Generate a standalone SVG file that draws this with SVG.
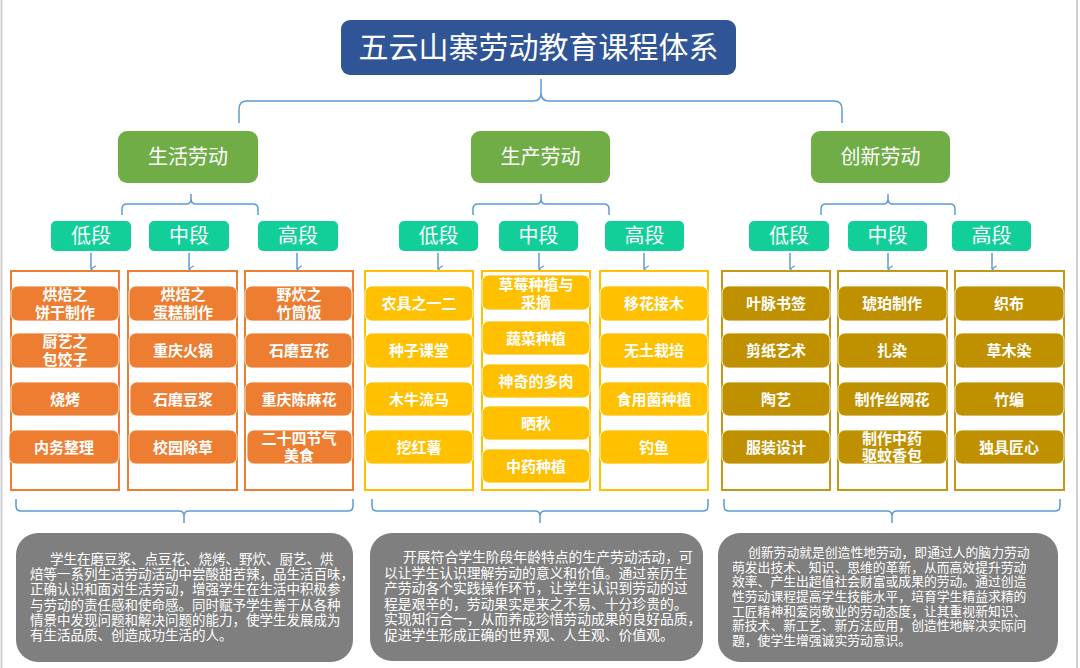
<svg xmlns="http://www.w3.org/2000/svg" width="1080" height="668" viewBox="0 0 1080 668">
<defs>
<style>
text{font-family:"Liberation Sans","Noto Sans CJK SC",sans-serif;fill:#fff;}
.t{font-size:30px;text-anchor:middle;dominant-baseline:central;}
.cat{font-size:20px;text-anchor:middle;dominant-baseline:central;}
.lvl{font-size:20px;text-anchor:middle;dominant-baseline:central;}
.it{font-size:15px;font-weight:bold;text-anchor:middle;dominant-baseline:central;}
.it2{font-size:15px;font-weight:bold;text-anchor:middle;}
.d1{font-size:13.5px;}
.d2{font-size:13.8px;}
.d3{font-size:12.8px;}
.conn{fill:none;stroke:#5B9BD5;stroke-width:1.5;}
.o{fill:#ED7D31;stroke:#fff;stroke-width:0.8;}
.y{fill:#FFC000;stroke:#fff;stroke-width:0.8;}
.g{fill:#BF9000;stroke:#fff;stroke-width:0.8;}
.fo{fill:#fff;stroke:#ED7D31;stroke-width:2;}
.fy{fill:#fff;stroke:#FFC000;stroke-width:2;}
.fg{fill:#fff;stroke:#C49A14;stroke-width:2;}
.cat-box{fill:#70AD47;}
.lvl-box{fill:#12CF9A;}
.desc{fill:#7F7F7F;}
</style>
<marker id="arr" viewBox="0 0 10 10" refX="5" refY="9" markerWidth="8" markerHeight="8" orient="auto-start-reverse" markerUnits="userSpaceOnUse">
<path d="M1,3 L5,9 L9,3" fill="none" stroke="#5B9BD5" stroke-width="1.4"/>
</marker>
</defs>
<rect width="1080" height="668" fill="#fff"/>
<line x1="1.5" y1="0" x2="1.5" y2="668" stroke="#cfcfcf" stroke-width="2"/>
<line x1="1077" y1="0" x2="1077" y2="668" stroke="#cfcfcf" stroke-width="2"/>

<g id="connectors">
<path class="conn" d="M239,123 L239,109 Q239,101 247,101 L533,101 Q541,101 541,93 L541,79 M541,93 Q541,101 549,101 L834,101 Q842,101 842,109 L842,123"/>
<path class="conn" d="M122,215 L122,209 Q122,204 127,204 L186,204 Q191,204 191,199 L191,194 M191,199 Q191,204 196,204 L253,204 Q258,204 258,209 L258,215"/>
<path class="conn" d="M473,215 L473,209 Q473,204 478,204 L536,204 Q541,204 541,199 L541,194 M541,199 Q541,204 546,204 L604,204 Q609,204 609,209 L609,215"/>
<path class="conn" d="M821,215 L821,209 Q821,204 826,204 L883,204 Q888,204 888,199 L888,194 M888,199 Q888,204 893,204 L950,204 Q955,204 955,209 L955,215"/>
<line class="conn" x1="91" y1="253" x2="91" y2="269" marker-end="url(#arr)"/>
<line class="conn" x1="189" y1="253" x2="189" y2="269" marker-end="url(#arr)"/>
<line class="conn" x1="297" y1="253" x2="297" y2="269" marker-end="url(#arr)"/>
<line class="conn" x1="438" y1="253" x2="438" y2="269" marker-end="url(#arr)"/>
<line class="conn" x1="539" y1="253" x2="539" y2="269" marker-end="url(#arr)"/>
<line class="conn" x1="644" y1="253" x2="644" y2="269" marker-end="url(#arr)"/>
<line class="conn" x1="790" y1="253" x2="790" y2="269" marker-end="url(#arr)"/>
<line class="conn" x1="888" y1="253" x2="888" y2="269" marker-end="url(#arr)"/>
<line class="conn" x1="992" y1="253" x2="992" y2="269" marker-end="url(#arr)"/>
<path class="conn" d="M16,499 L16,506 Q16,511 21,511 L179,511 Q184,511 184,516 L184,523 M184,516 Q184,511 189,511 L348,511 Q353,511 353,506 L353,499"/>
<path class="conn" d="M372,499 L372,506 Q372,511 377,511 L535,511 Q540,511 540,516 L540,523 M540,516 Q540,511 545,511 L703,511 Q708,511 708,506 L708,499"/>
<path class="conn" d="M724,499 L724,506 Q724,511 729,511 L887,511 Q892,511 892,516 L892,523 M892,516 Q892,511 897,511 L1055,511 Q1060,511 1060,506 L1060,499"/>
</g>

<g id="title">
<rect x="341" y="20" width="395" height="55" rx="9" fill="#2F5597"/>
<text class="t" x="538.5" y="47.5">五云山寨劳动教育课程体系</text>
</g>

<g id="cat-life"><rect class="cat-box" x="118" y="131" width="140" height="52" rx="9"/><text class="cat" x="188" y="157">生活劳动</text></g>
<g id="cat-prod"><rect class="cat-box" x="471" y="131" width="139" height="52" rx="9"/><text class="cat" x="540.5" y="157">生产劳动</text></g>
<g id="cat-inno"><rect class="cat-box" x="811" y="131" width="139" height="52" rx="9"/><text class="cat" x="880.5" y="157">创新劳动</text></g>

<g id="lvl-1a"><rect class="lvl-box" x="51" y="221" width="80" height="30" rx="5"/><text class="lvl" x="91" y="236">低段</text></g>
<g id="lvl-1b"><rect class="lvl-box" x="149" y="221" width="80" height="30" rx="5"/><text class="lvl" x="189" y="236">中段</text></g>
<g id="lvl-1c"><rect class="lvl-box" x="258" y="221" width="80" height="30" rx="5"/><text class="lvl" x="298" y="236">高段</text></g>
<g id="lvl-2a"><rect class="lvl-box" x="399" y="221" width="79" height="30" rx="5"/><text class="lvl" x="438.5" y="236">低段</text></g>
<g id="lvl-2b"><rect class="lvl-box" x="499" y="221" width="79" height="30" rx="5"/><text class="lvl" x="538.5" y="236">中段</text></g>
<g id="lvl-2c"><rect class="lvl-box" x="605" y="221" width="79" height="30" rx="5"/><text class="lvl" x="644.5" y="236">高段</text></g>
<g id="lvl-3a"><rect class="lvl-box" x="749" y="221" width="80" height="30" rx="5"/><text class="lvl" x="789" y="236">低段</text></g>
<g id="lvl-3b"><rect class="lvl-box" x="848" y="221" width="79" height="30" rx="5"/><text class="lvl" x="887.5" y="236">中段</text></g>
<g id="lvl-3c"><rect class="lvl-box" x="952" y="221" width="79" height="30" rx="5"/><text class="lvl" x="991.5" y="236">高段</text></g>

<g id="col-1a">
<rect class="fo" x="11" y="271" width="108" height="219"/>
<rect class="o" x="11" y="286" width="108" height="35" rx="7"/><text class="it2" x="65" y="300.2">烘焙之<tspan x="65" dy="18">饼干制作</tspan></text>
<rect class="o" x="11" y="333" width="108" height="35" rx="7"/><text class="it2" x="65" y="347.2">厨艺之<tspan x="65" dy="18">包饺子</tspan></text>
<rect class="o" x="11" y="382" width="108" height="34" rx="7"/><text class="it" x="65" y="399">烧烤</text>
<rect class="o" x="9" y="430" width="110" height="34" rx="7"/><text class="it" x="64" y="447">内务整理</text>
</g>
<g id="col-1b">
<rect class="fo" x="128" y="271" width="109" height="219"/>
<rect class="o" x="129" y="286" width="108" height="35" rx="7"/><text class="it2" x="183" y="300.2">烘焙之<tspan x="183" dy="18">蛋糕制作</tspan></text>
<rect class="o" x="129" y="333" width="108" height="35" rx="7"/><text class="it" x="183" y="350.5">重庆火锅</text>
<rect class="o" x="130" y="382" width="107" height="34" rx="7"/><text class="it" x="183" y="399">石磨豆浆</text>
<rect class="o" x="129" y="430" width="108" height="34" rx="7"/><text class="it" x="183" y="447">校园除草</text>
</g>
<g id="col-1c">
<rect class="fo" x="245" y="271" width="108" height="219"/>
<rect class="o" x="245" y="286" width="107" height="35" rx="7"/><text class="it2" x="299" y="300.2">野炊之<tspan x="299" dy="18">竹筒饭</tspan></text>
<rect class="o" x="245" y="333" width="107" height="35" rx="7"/><text class="it" x="299" y="350.5">石磨豆花</text>
<rect class="o" x="245" y="382" width="107" height="34" rx="7"/><text class="it" x="299" y="399">重庆陈麻花</text>
<rect class="o" x="247" y="430" width="105" height="34" rx="7"/><text class="it2" x="299" y="444.2">二十四节气<tspan x="299" dy="17">美食</tspan></text>
</g>

<g id="col-2a">
<rect class="fy" x="365" y="271" width="108" height="219"/>
<rect class="y" x="365" y="286" width="108" height="35" rx="7"/><text class="it" x="419" y="303.5">农具之一二</text>
<rect class="y" x="365" y="333" width="108" height="35" rx="7"/><text class="it" x="419" y="350.5">种子课堂</text>
<rect class="y" x="365" y="382" width="108" height="34" rx="7"/><text class="it" x="419" y="399">木牛流马</text>
<rect class="y" x="365" y="430" width="108" height="34" rx="7"/><text class="it" x="419" y="447">挖红薯</text>
</g>
<g id="col-2b">
<rect class="fy" x="482" y="271" width="108" height="219"/>
<rect class="y" x="482" y="275" width="108" height="35" rx="7"/><text class="it2" x="536" y="289.7">草莓种植与<tspan x="536" dy="18">采摘</tspan></text>
<rect class="y" x="482" y="321" width="108" height="34" rx="7"/><text class="it" x="536" y="338">蔬菜种植</text>
<rect class="y" x="482" y="364" width="108" height="34" rx="7"/><text class="it" x="536" y="381">神奇的多肉</text>
<rect class="y" x="482" y="406" width="108" height="34" rx="7"/><text class="it" x="536" y="423">晒秋</text>
<rect class="y" x="482" y="449" width="108" height="34" rx="7"/><text class="it" x="536" y="466">中药种植</text>
</g>
<g id="col-2c">
<rect class="fy" x="600" y="271" width="108" height="219"/>
<rect class="y" x="600" y="286" width="108" height="35" rx="7"/><text class="it" x="654" y="303.5">移花接木</text>
<rect class="y" x="600" y="333" width="108" height="35" rx="7"/><text class="it" x="654" y="350.5">无土栽培</text>
<rect class="y" x="600" y="382" width="108" height="34" rx="7"/><text class="it" x="654" y="399">食用菌种植</text>
<rect class="y" x="600" y="430" width="108" height="34" rx="7"/><text class="it" x="654" y="447">钓鱼</text>
</g>

<g id="col-3a">
<rect class="fg" x="722" y="271" width="108" height="219"/>
<rect class="g" x="722" y="286" width="108" height="35" rx="7"/><text class="it" x="776" y="303.5">叶脉书签</text>
<rect class="g" x="722" y="333" width="108" height="35" rx="7"/><text class="it" x="776" y="350.5">剪纸艺术</text>
<rect class="g" x="722" y="382" width="108" height="34" rx="7"/><text class="it" x="776" y="399">陶艺</text>
<rect class="g" x="722" y="430" width="108" height="34" rx="7"/><text class="it" x="776" y="447">服装设计</text>
</g>
<g id="col-3b">
<rect class="fg" x="838" y="271" width="109" height="219"/>
<rect class="g" x="838" y="286" width="109" height="35" rx="7"/><text class="it" x="892" y="303.5">琥珀制作</text>
<rect class="g" x="838" y="333" width="109" height="35" rx="7"/><text class="it" x="892" y="350.5">扎染</text>
<rect class="g" x="838" y="382" width="109" height="34" rx="7"/><text class="it" x="892" y="399">制作丝网花</text>
<rect class="g" x="838" y="430" width="109" height="34" rx="7"/><text class="it2" x="892" y="444.2">制作中药<tspan x="892" dy="17">驱蚊香包</tspan></text>
</g>
<g id="col-3c">
<rect class="fg" x="955" y="271" width="109" height="219"/>
<rect class="g" x="955" y="286" width="109" height="35" rx="7"/><text class="it" x="1009" y="303.5">织布</text>
<rect class="g" x="955" y="333" width="109" height="35" rx="7"/><text class="it" x="1009" y="350.5">草木染</text>
<rect class="g" x="955" y="382" width="109" height="34" rx="7"/><text class="it" x="1009" y="399">竹编</text>
<rect class="g" x="955" y="430" width="109" height="34" rx="7"/><text class="it" x="1009" y="447">独具匠心</text>
</g>

<g id="desc-life">
<rect class="desc" x="16" y="533" width="337" height="129" rx="22"/>
<text class="d1" x="50" y="564">学生在磨豆浆、点豆花、烧烤、野炊、厨艺、烘<tspan x="30" dy="15.2">焙等一系列生活劳动活动中尝酸甜苦辣，品生活百味，</tspan><tspan x="30" dy="15.2">正确认识和面对生活劳动，增强学生在生活中积极参</tspan><tspan x="30" dy="15.2">与劳动的责任感和使命感。同时赋予学生善于从各种</tspan><tspan x="30" dy="15.2">情景中发现问题和解决问题的能力，使学生发展成为</tspan><tspan x="30" dy="15.2">有生活品质、创造成功生活的人。</tspan></text>
</g>
<g id="desc-prod">
<rect class="desc" x="370" y="533" width="333" height="128" rx="22"/>
<text class="d2" x="403" y="562.3">开展符合学生阶段年龄特点的生产劳动活动，可<tspan x="384" dy="15.5">以让学生认识理解劳动的意义和价值。通过亲历生</tspan><tspan x="384" dy="15.5">产劳动各个实践操作环节，让学生认识到劳动的过</tspan><tspan x="384" dy="15.5">程是艰辛的，劳动果实是来之不易、十分珍贵的。</tspan><tspan x="384" dy="15.5">实现知行合一，从而养成珍惜劳动成果的良好品质，</tspan><tspan x="384" dy="15.5">促进学生形成正确的世界观、人生观、价值观。</tspan></text>
</g>
<g id="desc-inno">
<rect class="desc" x="718" y="533" width="340" height="129" rx="22"/>
<text class="d3" x="748" y="556.9">创新劳动就是创造性地劳动，即通过人的脑力劳动<tspan x="732" dy="14.7">萌发出技术、知识、思维的革新，从而高效提升劳动</tspan><tspan x="732" dy="14.7">效率、产生出超值社会财富或成果的劳动。通过创造</tspan><tspan x="732" dy="14.7">性劳动课程提高学生技能水平，培育学生精益求精的</tspan><tspan x="732" dy="14.7">工匠精神和爱岗敬业的劳动态度，让其重视新知识、</tspan><tspan x="732" dy="14.7">新技术、新工艺、新方法应用，创造性地解决实际问</tspan><tspan x="732" dy="14.7">题，使学生增强诚实劳动意识。</tspan></text>
</g>
</svg>
